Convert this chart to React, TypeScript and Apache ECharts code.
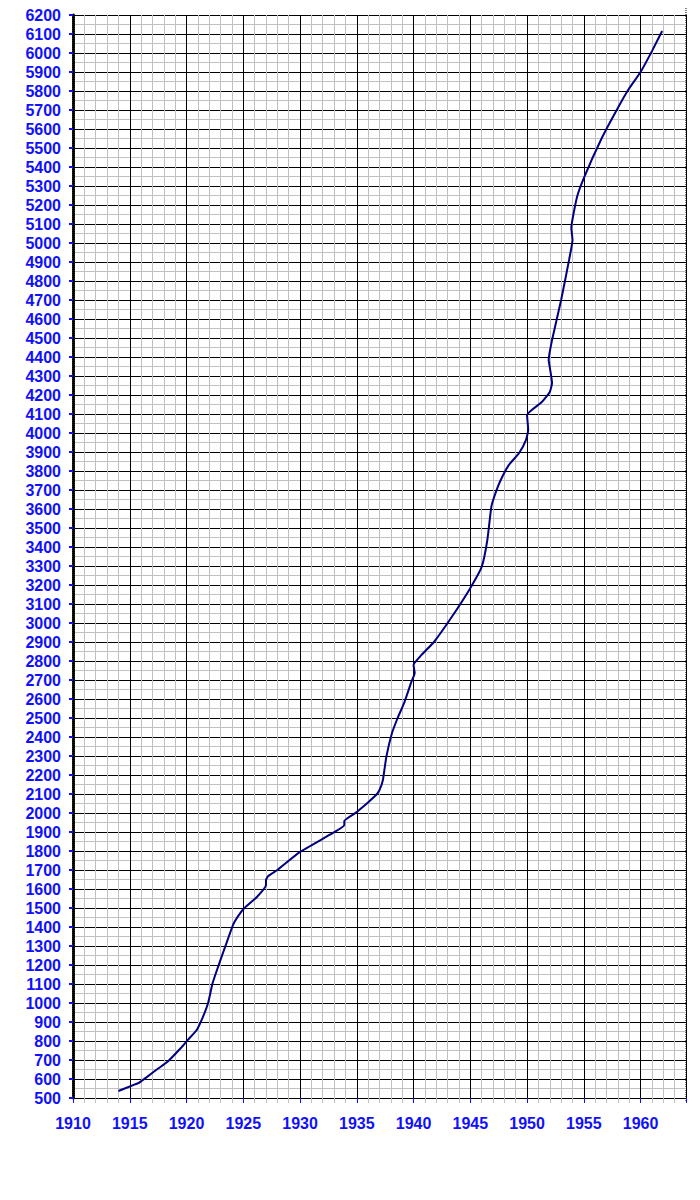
import React, { useEffect, useRef } from "react";
import * as echarts from "echarts";

const years = [
  1914.0, 1915.3, 1915.8, 1916.5, 1917.5, 1918.3, 1919.5, 1920.1, 1920.9, 1921.4,
  1921.9, 1922.3, 1922.9, 1923.4, 1924.1, 1924.5, 1925.1, 1926.2, 1927.0, 1927.0,
  1927.2, 1928.0, 1930.0, 1932.9, 1933.9, 1933.9, 1935.0, 1936.7, 1937.0, 1937.3,
  1937.6, 1938.1, 1938.6, 1939.2, 1939.8, 1940.1, 1940.0, 1940.7, 1941.8, 1943.3,
  1944.9, 1946.0, 1946.5, 1946.85, 1947.1, 1947.6, 1948.4, 1949.3, 1949.9, 1950.1,
  1950.0, 1951.3, 1952.0, 1952.2, 1952.0, 1951.9, 1952.2, 1953.0, 1953.7, 1954.0,
  1953.9, 1954.4, 1955.0, 1956.5, 1957.8, 1958.9, 1960.0, 1961.0, 1961.9,
];
const values = [
  537, 568, 580, 610, 655, 689, 763, 805, 858, 920,
  1000, 1105, 1211, 1295, 1411, 1453, 1500, 1558, 1621, 1647,
  1668, 1700, 1795, 1895, 1937, 1958, 2005, 2095, 2121, 2174,
  2295, 2421, 2500, 2584, 2689, 2737, 2779, 2832, 2900, 3026,
  3174, 3295, 3437, 3611, 3663, 3742, 3832, 3895, 3963, 4016,
  4095, 4163, 4216, 4263, 4347, 4384, 4489, 4700, 4911, 5016,
  5079, 5242, 5342, 5542, 5689, 5805, 5900, 6010, 6116,
];

const X_MIN = 1910;
const X_MAX = 1964;
const Y_MIN = 500;
const Y_MAX = 6200;

export default function App() {
  const ref = useRef<HTMLDivElement>(null);
  useEffect(() => {
    if (!ref.current) return;
    const chart = echarts.init(ref.current, null, { renderer: "svg" });
    const labelStyle = {
      color: "#1010ff",
      fontWeight: "bold" as const,
      fontSize: 16,
      fontFamily: "'Liberation Sans', Arial, sans-serif",
    };
    chart.setOption({
      animation: false,
      backgroundColor: "#ffffff",
      grid: { left: 73, right: 14, top: 15, bottom: 102, containLabel: false },
      xAxis: {
        type: "value",
        min: X_MIN,
        max: X_MAX,
        interval: 5,
        axisLine: { show: false },
        axisTick: { show: true, length: 5, lineStyle: { color: "#1010ff", width: 1 } },
        minorTick: { show: true, splitNumber: 5, length: 5, lineStyle: { color: "#c0c0c0" } },
        axisLabel: {
          ...labelStyle,
          margin: 17,
          formatter: (v: number) => (v % 5 === 0 ? String(v) : ""),
        },
        splitLine: { show: true, lineStyle: { color: "#000000", width: 1 } },
        minorSplitLine: { show: true, lineStyle: { color: "#c0c0c0", width: 1 } },
      },
      yAxis: [
        {
          type: "value",
          min: Y_MIN,
          max: Y_MAX,
          interval: 100,
          axisLine: { show: true, lineStyle: { color: "#ffff00", width: 3 } },
          axisTick: { show: true, length: 4, lineStyle: { color: "#1010ff", width: 2 } },
          minorTick: { show: false, splitNumber: 2 },
          axisLabel: { ...labelStyle, margin: 12, formatter: (v: number) => String(v) },
          splitLine: { show: true, lineStyle: { color: "#000000", width: 1 } },
          minorSplitLine: { show: true, lineStyle: { color: "#c0c0c0", width: 1 } },
        },
        {
          type: "value",
          position: "left",
          min: Y_MIN,
          max: Y_MAX,
          interval: 100,
          axisLine: { show: true, lineStyle: { color: "#000000", width: 3, type: [1, 1] } },
          axisTick: { show: false },
          axisLabel: { show: false },
          splitLine: { show: false },
        },
      ],
      graphic: [
        {
          type: "line",
          shape: { x1: 686, y1: 8, x2: 686, y2: 1102 },
          style: { stroke: "#808080", lineWidth: 2, lineDash: [1, 1] },
        },
      ],
      series: [
        {
          type: "line",
          data: years.map((y, i) => [y, values[i]]),
          showSymbol: false,
          smooth: 0.15,
          lineStyle: { color: "#000080", width: 2 },
        },
      ],
    });
    return () => chart.dispose();
  }, []);
  return (
    <div
      ref={ref}
      style={{ position: "absolute", left: 0, top: 0, width: 700, height: 1200 }}
    />
  );
}
